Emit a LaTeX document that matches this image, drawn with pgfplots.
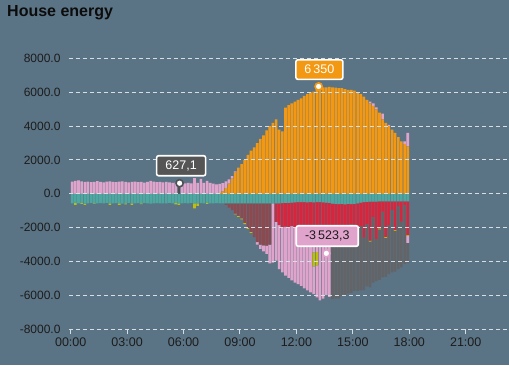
\documentclass[border=0pt]{standalone}
\usepackage{pgfplots}
\pgfplotsset{compat=1.18}
\usepackage{pgfplotstable}
\usepackage{fontspec}
\setmainfont{Liberation Sans}
\definecolor{bg}{RGB}{91,116,133}
\definecolor{cOrange}{RGB}{243,152,18}
\definecolor{cPink}{RGB}{224,164,204}
\definecolor{cTeal}{RGB}{76,168,160}
\definecolor{cBrown}{RGB}{140,74,80}
\definecolor{cRed}{RGB}{214,38,62}
\definecolor{cGrey}{RGB}{98,100,104}
\definecolor{cOlive}{RGB}{190,190,12}
\definecolor{cHl}{RGB}{78,80,84}
\definecolor{cTip}{RGB}{85,85,85}
\definecolor{cGrid}{RGB}{215,222,228}
\definecolor{cTick}{RGB}{28,28,28}

\pgfplotstableread{
m o pp hl t b r pa y pn g
0 0 720 0 560 0 0 0 0 0 0
10 0 760 0 540 0 0 0 120 0 0
20 0 790 0 570 0 0 0 0 0 0
30 0 740 0 550 0 0 0 40 0 0
40 0 700 0 580 0 0 0 80 0 0
50 0 720 0 560 0 0 0 0 0 0
60 0 690 0 540 0 0 0 0 0 0
70 0 710 0 560 0 0 0 30 0 0
80 0 745 0 570 0 0 0 0 0 0
90 0 700 0 550 0 0 0 0 0 0
100 0 680 0 560 0 0 0 0 0 0
110 0 720 0 540 0 0 0 0 0 0
120 0 730 0 560 0 0 0 100 0 0
130 0 700 0 570 0 0 0 0 0 0
140 0 690 0 550 0 0 0 0 0 0
150 0 720 0 560 0 0 0 90 0 0
160 0 740 0 580 0 0 0 0 0 0
170 0 700 0 560 0 0 0 60 0 0
180 0 680 0 540 0 0 0 0 0 0
190 0 700 0 560 0 0 0 100 0 0
200 0 720 0 570 0 0 0 0 0 0
210 0 690 0 550 0 0 0 0 0 0
220 0 700 0 560 0 0 0 50 0 0
230 0 660 0 540 0 0 0 0 0 0
240 0 700 0 560 0 0 0 0 0 0
250 0 770 0 580 0 0 0 0 0 0
260 0 720 0 560 0 0 0 0 0 0
270 0 690 0 550 0 0 0 0 0 0
280 0 700 0 560 0 0 0 0 0 0
290 0 680 0 570 0 0 0 0 0 0
300 0 700 0 560 0 0 0 0 0 0
310 0 670 0 540 0 0 0 0 0 0
320 0 640 0 560 0 0 0 0 0 0
330 0 660 0 550 0 0 0 80 0 0
340 0 0 627 560 0 0 0 100 0 0
350 0 640 0 570 0 0 0 0 0 0
360 0 610 0 550 0 0 0 0 0 0
370 0 650 0 560 0 0 0 0 0 0
380 0 620 0 540 0 0 0 0 0 0
390 0 920 0 560 0 0 0 300 0 0
400 0 640 0 570 0 0 0 150 0 0
410 0 880 0 550 0 0 0 0 0 0
420 0 650 0 560 0 0 0 0 0 0
430 0 760 0 540 0 0 0 60 0 0
440 0 640 0 560 0 0 0 0 0 0
450 0 600 0 570 0 0 0 0 0 0
460 0 560 0 550 0 0 0 0 0 0
470 60 520 0 560 0 0 0 0 0 0
480 150 480 0 560 0 0 0 0 0 0
490 350 380 0 560 100 0 0 0 0 0
500 600 250 0 570 250 0 0 0 0 0
510 900 150 0 560 400 0 0 0 0 0
520 1250 80 0 570 600 0 0 50 0 0
530 1550 0 0 560 750 0 0 60 0 0
540 1750 0 0 560 900 0 0 60 0 0
550 2000 0 0 570 1150 0 0 80 0 0
560 2300 0 0 560 1450 0 0 60 0 0
570 2550 0 0 560 1700 0 0 50 0 0
580 2750 0 0 570 2000 0 0 0 0 0
590 3000 0 0 560 2300 0 0 0 150 0
600 3250 0 0 560 2450 0 0 0 250 0
610 3450 0 0 570 2480 0 0 0 350 0
620 3750 0 0 560 2500 0 0 0 500 0
630 4000 0 0 560 2450 0 0 0 1100 0
640 4200 0 0 570 0 0 0 0 3500 0
650 4400 0 0 560 0 1100 0 0 2300 0
660 3800 0 0 560 0 1300 0 0 2600 0
670 3700 0 0 550 0 1400 0 0 2700 0
680 5100 0 0 540 0 1400 0 0 2900 0
690 5250 0 0 530 0 1450 0 0 3000 0
700 5350 0 0 520 0 1400 0 0 3200 0
710 5450 0 0 510 0 1450 0 0 3300 0
720 5550 0 0 500 0 1450 0 0 3400 0
730 5650 0 0 500 0 1500 0 0 3450 0
740 5800 0 0 500 0 1450 0 0 3650 0
750 5900 0 0 510 0 1500 0 0 3700 0
760 6000 0 0 500 0 1480 0 0 3850 0
770 6050 0 0 510 0 1500 1450 830 1650 0
780 6150 0 0 500 0 1480 1450 800 1900 0
790 6350 0 0 500 0 1500 0 0 4300 0
800 6300 0 0 510 0 1450 0 0 4250 0
810 6300 0 0 520 0 1500 0 0 3980 0
820 6320 0 0 540 0 1480 0 0 4080 0
830 6300 0 0 580 0 1450 0 0 0 4200
840 6280 0 0 600 0 1400 0 0 0 4200
850 6250 0 0 610 0 1350 0 0 0 4250
860 6250 0 0 600 0 1450 0 0 0 4000
870 6200 0 0 620 0 1300 0 0 0 4100
880 6150 0 0 600 0 1500 0 0 0 3800
890 6150 0 0 610 0 1200 0 0 0 4050
900 6100 0 0 590 0 1450 0 0 0 3700
910 6000 0 0 560 0 1700 0 0 0 3500
920 5900 0 0 520 0 1400 0 0 0 3800
930 5750 0 0 500 0 2100 0 0 0 3100
940 5550 0 0 480 0 1300 0 0 0 3700
950 5350 100 0 470 0 2300 0 60 0 2700
960 5200 150 0 460 0 900 0 0 0 3900
970 5000 120 0 460 0 2200 0 0 0 2500
980 4800 0 0 450 0 1600 0 50 0 3000
990 4400 350 0 450 0 600 0 0 0 3900
1000 4200 0 0 450 0 2100 0 60 0 2300
1010 4000 80 0 450 0 1400 0 0 0 2900
1020 3800 0 0 450 0 500 0 0 0 3700
1030 3600 0 0 450 0 1700 0 50 0 2400
1040 3350 0 0 450 0 300 0 0 0 3700
1050 3100 0 0 450 0 1200 0 0 0 2700
1060 2950 150 0 450 0 200 0 0 0 3500
1070 2800 800 0 450 0 2000 0 50 400 1200
}\energy

\pgfplotsset{
  base/.style={at={(69pt,36pt)}, anchor=south west, scale only axis,
    width=440pt, height=293pt, xmin=-0.09, xmax=23.30, ymin=-8000, ymax=9337},
  bars/.style={ybar stacked, bar width=2.6pt},
}

\begin{document}
\begin{tikzpicture}
\fill[bg] (0,0) rectangle (509pt,365pt);
\node[anchor=base west, inner sep=0pt, text={rgb,255:red,12;green,12;blue,12},
  font=\bfseries\fontsize{16}{19}\selectfont] at (7pt,348.5pt) {House energy};

% positive stack
\begin{axis}[base, bars, axis lines=none, ticks=none]
\addplot[fill=cOrange, draw=none] table[x expr=\thisrow{m}/60+0.08333, y=o]{\energy};
\addplot[fill=cPink, draw=none] table[x expr=\thisrow{m}/60+0.08333, y=pp]{\energy};
\addplot[fill=cHl, draw=none] table[x expr=\thisrow{m}/60+0.08333, y=hl]{\energy};
\end{axis}

% negative stack + grid + ticks
\begin{axis}[base, bars, axis on top,
  axis line style={draw=none},
  ymajorgrids, grid style={cGrid, line width=1pt, dash pattern=on 4pt off 3pt},
  ytick={-8000,-6000,-4000,-2000,0,2000,4000,6000,8000},
  yticklabels={-8000.0,-6000.0,-4000.0,-2000.0,0.0,2000.0,4000.0,6000.0,8000.0},
  xtick={0,3,6,9,12,15,18,21},
  xticklabels={00:00,03:00,06:00,09:00,12:00,15:00,18:00,21:00},
  xtick pos=left, ytick pos=left, tick align=outside, major tick length=5pt,
  x tick style={cGrid, line width=1pt}, y tick style={draw=none},
  yticklabel style={text=cTick, font=\fontsize{12}{14}\selectfont},
  xticklabel style={text=cTick, font=\fontsize{12.5}{15}\selectfont},
]
\addplot[fill=cTeal, draw=none] table[x expr=\thisrow{m}/60+0.08333, y expr=-\thisrow{t}]{\energy};
\addplot[fill=cBrown, draw=none] table[x expr=\thisrow{m}/60+0.08333, y expr=-\thisrow{b}]{\energy};
\addplot[fill=cRed, draw=none] table[x expr=\thisrow{m}/60+0.08333, y expr=-\thisrow{r}]{\energy};
\addplot[fill=cPink, draw=none] table[x expr=\thisrow{m}/60+0.08333, y expr=-\thisrow{pa}]{\energy};
\addplot[fill=cOlive, draw=none] table[x expr=\thisrow{m}/60+0.08333, y expr=-\thisrow{y}]{\energy};
\addplot[fill=cPink, draw=none] table[x expr=\thisrow{m}/60+0.08333, y expr=-\thisrow{pn}]{\energy};
\addplot[fill=cGrey, draw=none] table[x expr=\thisrow{m}/60+0.08333, y expr=-\thisrow{g}]{\energy};
\end{axis}

% markers and tooltips
\begin{axis}[base, axis lines=none, ticks=none, clip=false]
\addplot[only marks, mark=*, mark size=3.6pt, mark options={fill=white, draw=cHl, line width=1.6pt}] coordinates {(5.79,627)};
\addplot[only marks, mark=*, mark size=3.6pt, mark options={fill=white, draw=cOrange, line width=1.6pt}] coordinates {(13.18,6350)};
\addplot[only marks, mark=*, mark size=3.6pt, mark options={fill=white, draw=cPink, line width=1.6pt}] coordinates {(13.59,-3523)};
\node[fill=cTip, draw=white, line width=1.6pt, rounded corners=2pt, text=white,
  minimum width=49pt, minimum height=20pt, inner sep=2pt,
  font=\fontsize{12.5}{14}\selectfont] at (axis cs:5.87,1660) {627,1};
\node[fill=cOrange, draw=white, line width=1.6pt, rounded corners=2pt, text=white,
  minimum width=47pt, minimum height=19.5pt, inner sep=2pt,
  font=\fontsize{12.5}{14}\selectfont] at (axis cs:13.22,7350) {6\,350};
\node[fill=cPink, draw=white, line width=1.6pt, rounded corners=2pt, text=cTick,
  minimum width=62pt, minimum height=20.5pt, inner sep=2pt,
  font=\fontsize{12.5}{14}\selectfont] at (axis cs:13.64,-2500) {-3\,523,3};
\end{axis}
\pgfresetboundingbox
\useasboundingbox (0,0) rectangle (509pt,365pt);
\end{tikzpicture}
\end{document}
